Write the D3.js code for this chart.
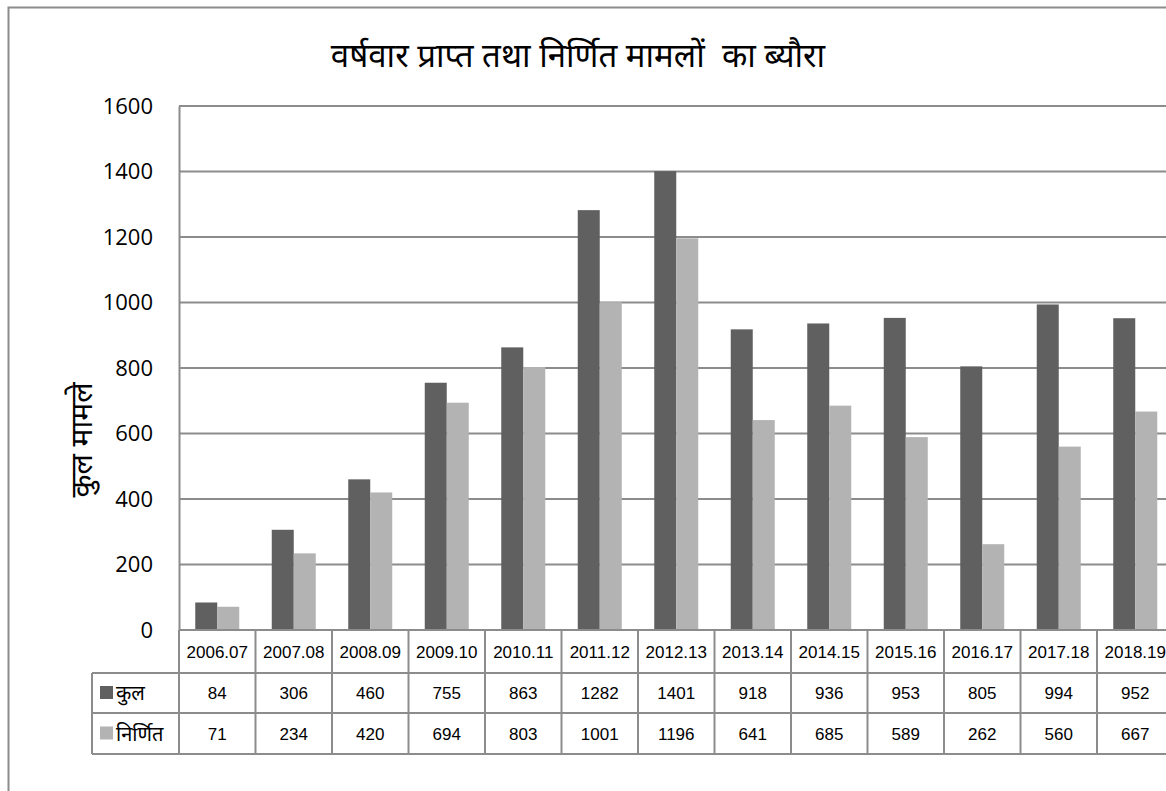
<!DOCTYPE html>
<html>
<head>
<meta charset="utf-8">
<script src="https://cdn.jsdelivr.net/npm/d3@7"></script>
<style>
  body { margin: 0; background: #fff; }
  svg { display: block; }
</style>
</head>
<body>
<div id="chart"></div>
<script>
// chart values
const years = ["2006.07", "2007.08", "2008.09", "2009.10", "2010.11", "2011.12", "2012.13",
               "2013.14", "2014.15", "2015.16", "2016.17", "2017.18", "2018.19"];
const kul = [84, 306, 460, 755, 863, 1282, 1401, 918, 936, 953, 805, 994, 952];
const nirnit = [71, 234, 420, 694, 803, 1001, 1196, 641, 685, 589, 262, 560, 667];
const seriesNames = ["कुल", "निर्णित"];
const yTicks = [0, 200, 400, 600, 800, 1000, 1200, 1400, 1600];
const titleText = "वर्षवार प्राप्त तथा निर्णित मामलों  का ब्यौरा";
const yLabel = "कुल मामले";

const width = 1166, height = 791;
const plotLeft = 179, plotTop = 106, plotBottom = 630;
const colW = 76.5;
const rowH = [43, 40, 41];
const legendLeft = 92;

const colors = ["#606060", "#b3b3b3"];
const lineCol = "#8c8c8c";

const svg = d3.select("#chart").append("svg")
    .attr("width", width)
    .attr("height", height);

// outer frame (only left and top visible)
svg.append("path")
    .attr("d", "M8.5,791 L8.5,7.5 L1166,7.5")
    .attr("fill", "none")
    .attr("stroke", lineCol)
    .attr("stroke-width", 2);

svg.append("text")
    .attr("x", 578)
    .attr("y", 67)
    .attr("text-anchor", "middle")
    .style("white-space", "pre")
    .attr("font-family", "'Noto Sans', sans-serif")
    .attr("font-size", 33)
    .attr("fill", "#000")
    .text(titleText);

const x = d3.scaleBand()
    .domain(years)
    .range([plotLeft, plotLeft + colW * years.length])
    .padding(0);

const x1 = d3.scaleBand()
    .domain(seriesNames)
    .range([16.25, 60.25]);

const y = d3.scaleLinear()
    .domain([0, 1600])
    .range([plotBottom, plotTop]);

// gridlines
svg.append("g")
    .selectAll("line")
    .data(yTicks)
    .join("line")
    .attr("x1", plotLeft)
    .attr("x2", width)
    .attr("y1", d => y(d))
    .attr("y2", d => y(d))
    .attr("stroke", lineCol)
    .attr("stroke-width", 2);

// y axis
const yAxis = d3.axisLeft(y).tickValues(yTicks).tickFormat(d3.format("d")).tickSize(0).tickPadding(26);
const gy = svg.append("g")
    .attr("transform", `translate(${plotLeft},0)`)
    .call(yAxis);
gy.select(".domain").attr("stroke", lineCol).attr("stroke-width", 2);
gy.selectAll("text")
    .attr("font-family", "'Open Sans', sans-serif")
    .attr("font-size", 22)
    .attr("fill", "#000");

svg.append("text")
    .attr("transform", "translate(92,440) rotate(-90)")
    .attr("text-anchor", "middle")
    .attr("font-family", "'Noto Sans', sans-serif")
    .attr("font-size", 30)
    .attr("fill", "#000")
    .text(yLabel);

// bars
const rows = years.map((yr, i) => ({ year: yr, vals: [kul[i], nirnit[i]] }));

svg.append("g")
    .selectAll("g")
    .data(rows)
    .join("g")
    .attr("transform", d => `translate(${x(d.year)},0)`)
    .selectAll("rect")
    .data(d => d.vals.map((v, k) => ({ name: seriesNames[k], v: v, k: k })))
    .join("rect")
    .attr("x", d => x1(d.name))
    .attr("width", x1.bandwidth())
    .attr("y", d => y(d.v))
    .attr("height", d => y(0) - y(d.v))
    .attr("fill", d => colors[d.k]);

// data table
const tbl = svg.append("g");
const yHead = plotBottom, yR1 = plotBottom + rowH[0], yR2 = yR1 + rowH[1], yEnd = yR2 + rowH[2];
const xEnd = plotLeft + colW * years.length;

[[plotLeft, yHead], [legendLeft, yR1], [legendLeft, yR2], [legendLeft, yEnd]].forEach(([x0, yy]) => {
    tbl.append("line")
        .attr("x1", x0).attr("x2", xEnd)
        .attr("y1", yy).attr("y2", yy)
        .attr("stroke", lineCol).attr("stroke-width", 2);
});

tbl.selectAll("line.col")
    .data(years.concat(["end"]))
    .join("line")
    .attr("class", "col")
    .attr("x1", (d, i) => plotLeft + i * colW)
    .attr("x2", (d, i) => plotLeft + i * colW)
    .attr("y1", yHead)
    .attr("y2", yEnd)
    .attr("stroke", lineCol)
    .attr("stroke-width", 2);

tbl.append("line")
    .attr("x1", legendLeft).attr("x2", legendLeft)
    .attr("y1", yR1).attr("y2", yEnd)
    .attr("stroke", lineCol).attr("stroke-width", 2);

tbl.selectAll("text.yr")
    .data(years)
    .join("text")
    .attr("class", "yr")
    .attr("x", d => x(d) + colW / 2)
    .attr("y", yHead + rowH[0] / 2 + 6)
    .attr("text-anchor", "middle")
    .attr("font-family", "'Liberation Sans', Arial, sans-serif")
    .attr("font-size", 17)
    .attr("fill", "#000")
    .text(d => d);

[kul, nirnit].forEach((vals, k) => {
    const cy = k === 0 ? yR1 + rowH[1] / 2 : yR2 + rowH[2] / 2;
    tbl.append("g")
        .selectAll("text")
        .data(vals)
        .join("text")
        .attr("x", (d, i) => x(years[i]) + colW / 2)
        .attr("y", cy + 6)
        .attr("text-anchor", "middle")
        .attr("font-family", "'Liberation Sans', Arial, sans-serif")
        .attr("font-size", 17)
        .attr("fill", "#000")
        .text(d => d);

    tbl.append("rect")
        .attr("x", 100)
        .attr("y", cy - 7)
        .attr("width", 13)
        .attr("height", 13)
        .attr("fill", colors[k]);

    tbl.append("text")
        .attr("x", 116)
        .attr("y", cy + 7)
        .attr("font-family", "'Noto Sans', sans-serif")
        .attr("font-size", 20)
        .attr("fill", "#000")
        .text(seriesNames[k]);
});
</script>
</body>
</html>
